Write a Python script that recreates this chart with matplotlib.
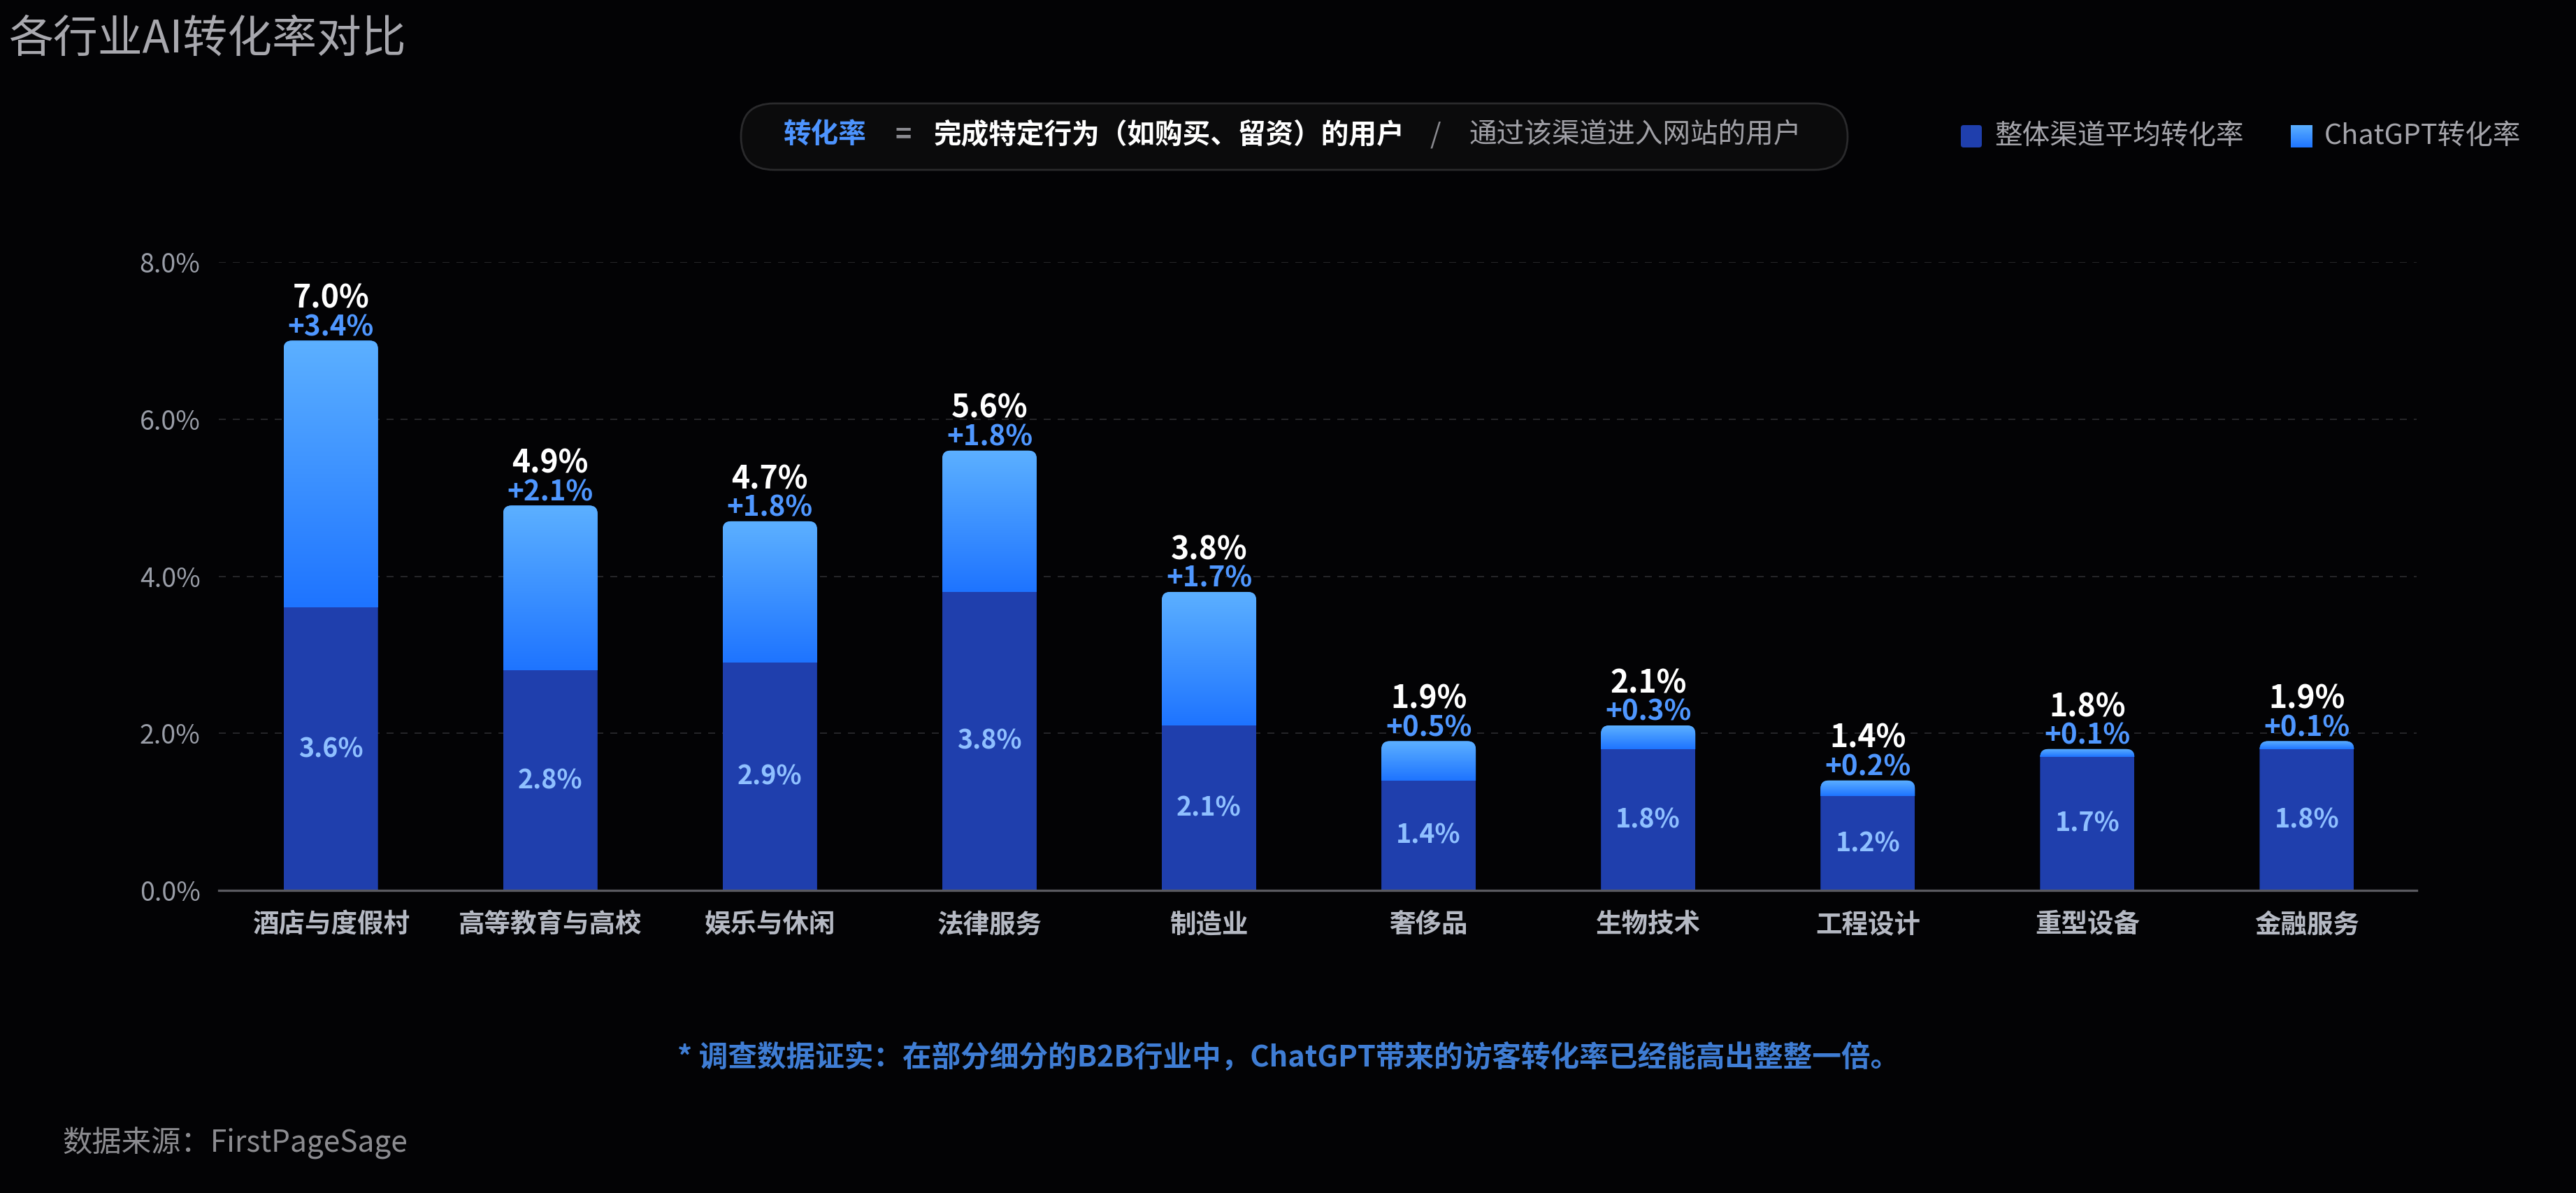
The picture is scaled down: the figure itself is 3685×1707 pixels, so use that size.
import numpy as np
import matplotlib.pyplot as plt
from matplotlib.patches import FancyBboxPatch
from matplotlib.colors import LinearSegmentedColormap

plt.rcParams['font.family'] = ['Noto Sans CJK SC', 'DejaVu Sans']

# data
categories = ['酒店与度假村', '高等教育与高校', '娱乐与休闲', '法律服务', '制造业',
              '奢侈品', '生物技术', '工程设计', '重型设备', '金融服务']
channel_avg = [3.6, 2.8, 2.9, 3.8, 2.1, 1.4, 1.8, 1.2, 1.7, 1.8]
chatgpt_rate = [7.0, 4.9, 4.7, 5.6, 3.8, 1.9, 2.1, 1.4, 1.8, 1.9]
uplift = [3.4, 2.1, 1.8, 1.8, 1.7, 0.5, 0.3, 0.2, 0.1, 0.1]
y_ticks = [0, 2, 4, 6, 8]
legend_labels = ['整体渠道平均转化率', 'ChatGPT转化率']

BG = '#030305'
BASE = '#1f3fad'
grad_cmap = LinearSegmentedColormap.from_list('gpt', ['#1e74ff', '#5cb0ff'])

W, H, DPI = 3685, 1707, 100
fig = plt.figure(figsize=(W / DPI, H / DPI), dpi=DPI, facecolor=BG)


def fx(px):
    return px / W


def fy(px):
    return 1 - px / H


ax = fig.add_axes([fx(313), fy(1274), (3457 - 313) / W, (1274 - 375) / H])
ax.set_facecolor(BG)
xlim = (-0.51, 9.5)
ylim = (0, 8)

x = np.arange(len(categories))
bw = 0.43

# pixel scale of the data axes, for round corners
px_per_x = (3457 - 313) / (xlim[1] - xlim[0])
px_per_y = (1274 - 375) / (ylim[1] - ylim[0])
r_px = 12
rx, ry = r_px / px_per_x, r_px / px_per_y

grad = np.linspace(0, 1, 256).reshape(-1, 1)

base_bars = ax.bar(x, channel_avg, bw, color=BASE, zorder=3)
top_bars = ax.bar(x, uplift, bw, bottom=channel_avg, color='#3d8cff', zorder=3)

for i in range(len(categories)):
    clip = FancyBboxPatch((x[i] - bw / 2, -ry), bw, chatgpt_rate[i] + ry,
                          boxstyle=f'round,pad=0,rounding_size={rx}',
                          mutation_aspect=ry / rx, transform=ax.transData)
    base_bars[i].set_clip_path(clip)
    top_bars[i].set_clip_path(clip)
    im = ax.imshow(grad, extent=(x[i] - bw / 2, x[i] + bw / 2, channel_avg[i], chatgpt_rate[i]),
                   origin='lower', cmap=grad_cmap, aspect='auto', interpolation='bilinear', zorder=4)
    im.set_clip_path(clip)

    ax.annotate(f'{chatgpt_rate[i]:.1f}%', xy=(x[i], chatgpt_rate[i]), xytext=(0, 43),
                textcoords='offset points', ha='center', va='center',
                fontsize=32, fontweight='bold', color='white', zorder=5)
    ax.annotate(f'+{uplift[i]:.1f}%', xy=(x[i], chatgpt_rate[i]), xytext=(0, 13.5),
                textcoords='offset points', ha='center', va='center',
                fontsize=29, fontweight='bold', color='#4f97ff', zorder=5)
    ax.text(x[i], channel_avg[i] / 2, f'{channel_avg[i]:.1f}%', ha='center', va='center',
            fontsize=27, fontweight='bold', color='#8fc0ff', zorder=5)

ax.set_xlim(*xlim)
ax.set_ylim(*ylim)

ax.set_yticks(y_ticks, [f'{v:.1f}%' for v in y_ticks])
ax.set_xticks(x, categories)
ax.tick_params(axis='y', length=0, pad=19, labelsize=27, labelcolor='#9a9ea8')
ax.tick_params(axis='x', length=0, pad=21, labelsize=27, labelcolor='#b5b9c3')
for t in ax.get_xticklabels():
    t.set_fontweight('bold')

for v in y_ticks[1:]:
    ax.axhline(v, color='#2c2c30', lw=1.2, ls=(0, (6, 6)), zorder=1)

for s in ['top', 'right', 'left']:
    ax.spines[s].set_visible(False)
ax.spines['bottom'].set_color('#5a5a60')
ax.spines['bottom'].set_linewidth(2.4)
ax.spines['bottom'].set_zorder(6)

# title
fig.text(fx(12), fy(56), '各行业AI转化率对比', fontsize=46, color='#a8a8ae', ha='left', va='center')

# formula pill
pill = FancyBboxPatch((fx(1060), fy(243)), fx(1583), 95 / H,
                      boxstyle=f'round,pad=0,rounding_size={fx(47)}',
                      mutation_aspect=W / H, transform=fig.transFigure,
                      facecolor='#0b0b0c', edgecolor='#2a2a2c', linewidth=2)
fig.add_artist(pill)
fy_mid = fy(193)
fig.text(fx(1121), fy_mid, '转化率', fontsize=28.5, fontweight='bold', color='#4d94ff', va='center')
fig.text(fx(1280), fy_mid, '=', fontsize=28.5, fontweight='bold', color='#8a8a90', va='center')
fig.text(fx(1336), fy_mid, '完成特定行为（如购买、留资）的用户', fontsize=28.5,
         fontweight='bold', color='white', va='center')
fig.text(fx(2046), fy_mid, '/', fontsize=28.5, color='#8a8a90', va='center')
fig.text(fx(2101), fy_mid, '通过该渠道进入网站的用户', fontsize=28.5, color='#a0a0a6', va='center')

# legend
sw1 = FancyBboxPatch((fx(2805), fy(211)), fx(30), 32 / H,
                     boxstyle=f'round,pad=0,rounding_size={fx(4)}', mutation_aspect=W / H,
                     transform=fig.transFigure, facecolor=BASE, edgecolor='none')
fig.add_artist(sw1)
fig.text(fx(2853), fy(195), legend_labels[0], fontsize=28.5, color='#a5a5ab', va='center')
sw_ax = fig.add_axes([fx(3277), fy(211), fx(31), 32 / H])
sw_ax.imshow(grad, origin='lower', cmap=grad_cmap, aspect='auto', extent=(0, 1, 0, 1))
sw_ax.axis('off')
fig.text(fx(3325), fy(195), legend_labels[1], fontsize=28.5, color='#a5a5ab', va='center')

# notes
fig.text(fx(1843), fy(1513), '* 调查数据证实：在部分细分的B2B行业中，ChatGPT带来的访客转化率已经能高出整整一倍。',
         fontsize=30, fontweight='bold', color='#3f7dd4', ha='center', va='center')
fig.text(fx(89), fy(1636), '数据来源：FirstPageSage', fontsize=30.5, color='#8c8c90', ha='left', va='center')

fig.savefig('out.png', dpi=DPI, facecolor=BG)
